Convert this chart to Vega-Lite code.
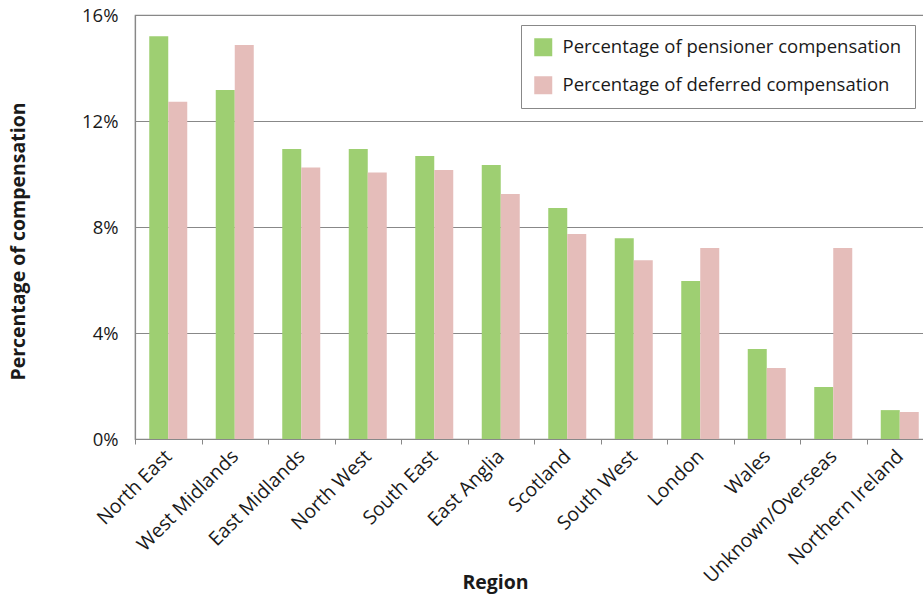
{
  "$schema": "https://vega.github.io/schema/vega-lite/v6.json",
  "autosize": "none",
  "width": 798,
  "height": 424,
  "padding": {"left": 135, "top": 15, "right": 0, "bottom": 157},
  "background": "white",
  "config": {
    "font": "Open Sans",
    "view": {"stroke": "#888888", "strokeWidth": 1.2}
  },
  "data": {
    "values": [
      {"region": "North East", "series": "Percentage of pensioner compensation", "value": 15.2},
      {"region": "North East", "series": "Percentage of deferred compensation", "value": 12.73},
      {"region": "West Midlands", "series": "Percentage of pensioner compensation", "value": 13.17},
      {"region": "West Midlands", "series": "Percentage of deferred compensation", "value": 14.87},
      {"region": "East Midlands", "series": "Percentage of pensioner compensation", "value": 10.94},
      {"region": "East Midlands", "series": "Percentage of deferred compensation", "value": 10.25},
      {"region": "North West", "series": "Percentage of pensioner compensation", "value": 10.94},
      {"region": "North West", "series": "Percentage of deferred compensation", "value": 10.06},
      {"region": "South East", "series": "Percentage of pensioner compensation", "value": 10.68},
      {"region": "South East", "series": "Percentage of deferred compensation", "value": 10.15},
      {"region": "East Anglia", "series": "Percentage of pensioner compensation", "value": 10.34},
      {"region": "East Anglia", "series": "Percentage of deferred compensation", "value": 9.25},
      {"region": "Scotland", "series": "Percentage of pensioner compensation", "value": 8.72},
      {"region": "Scotland", "series": "Percentage of deferred compensation", "value": 7.74},
      {"region": "South West", "series": "Percentage of pensioner compensation", "value": 7.58},
      {"region": "South West", "series": "Percentage of deferred compensation", "value": 6.75},
      {"region": "London", "series": "Percentage of pensioner compensation", "value": 5.96},
      {"region": "London", "series": "Percentage of deferred compensation", "value": 7.21},
      {"region": "Wales", "series": "Percentage of pensioner compensation", "value": 3.4},
      {"region": "Wales", "series": "Percentage of deferred compensation", "value": 2.68},
      {"region": "Unknown/Overseas", "series": "Percentage of pensioner compensation", "value": 1.96},
      {"region": "Unknown/Overseas", "series": "Percentage of deferred compensation", "value": 7.21},
      {"region": "Northern Ireland", "series": "Percentage of pensioner compensation", "value": 1.09},
      {"region": "Northern Ireland", "series": "Percentage of deferred compensation", "value": 1.02}
    ]
  },
  "mark": {"type": "bar"},
  "encoding": {
    "x": {
      "field": "region",
      "type": "nominal",
      "sort": null,
      "scale": {"paddingInner": 0, "paddingOuter": 0},
      "axis": {
        "title": "Region",
        "titleFontSize": 19.5,
        "titleFontWeight": "bold",
        "titleColor": "#1a1a1a",
        "titleX": 360,
        "titleY": 143,
        "titleAnchor": "middle",
        "titleBaseline": "middle",
        "labelAngle": -45,
        "labelAlign": "right",
        "labelBaseline": "middle",
        "labelFontSize": 19.5,
        "labelColor": "#1a1a1a",
        "labelPadding": 9,
        "labelLimit": 300,
        "tickBand": "extent",
        "tickSize": 5,
        "tickColor": "#888888",
        "domainColor": "#888888",
        "domainWidth": 1.2,
        "grid": false
      }
    },
    "xOffset": {
      "field": "series",
      "type": "nominal",
      "sort": ["Percentage of pensioner compensation", "Percentage of deferred compensation"],
      "scale": {"paddingInner": 0, "paddingOuter": 0.75}
    },
    "y": {
      "field": "value",
      "type": "quantitative",
      "scale": {"domain": [0, 16], "nice": false},
      "axis": {
        "title": "Percentage of compensation",
        "titleFontSize": 19.5,
        "titleFontWeight": "bold",
        "titleColor": "#1a1a1a",
        "titleX": -117,
        "titleY": 226,
        "titleAngle": -90,
        "titleAlign": "center",
        "titleBaseline": "middle",
        "values": [0, 4, 8, 12, 16],
        "labelExpr": "datum.value + '%'",
        "labelFontSize": 18.5,
        "labelColor": "#1a1a1a",
        "labelPadding": 17,
        "ticks": false,
        "grid": true,
        "gridColor": "#888888",
        "gridWidth": 1.2,
        "domainColor": "#888888",
        "domainWidth": 1.2
      }
    },
    "color": {
      "field": "series",
      "type": "nominal",
      "sort": ["Percentage of pensioner compensation", "Percentage of deferred compensation"],
      "scale": {
        "domain": ["Percentage of pensioner compensation", "Percentage of deferred compensation"],
        "range": ["#9ecf72", "#e5bdba"]
      },
      "legend": {
        "title": null,
        "orient": "none",
        "legendX": 386,
        "legendY": 10,
        "strokeColor": "#888888",
        "padding": 13,
        "symbolType": "square",
        "symbolSize": 324,
        "symbolStrokeWidth": 0,
        "labelFontSize": 18.5,
        "labelColor": "#1a1a1a",
        "labelLimit": 400,
        "labelOffset": 10,
        "rowPadding": 19
      }
    }
  }
}
